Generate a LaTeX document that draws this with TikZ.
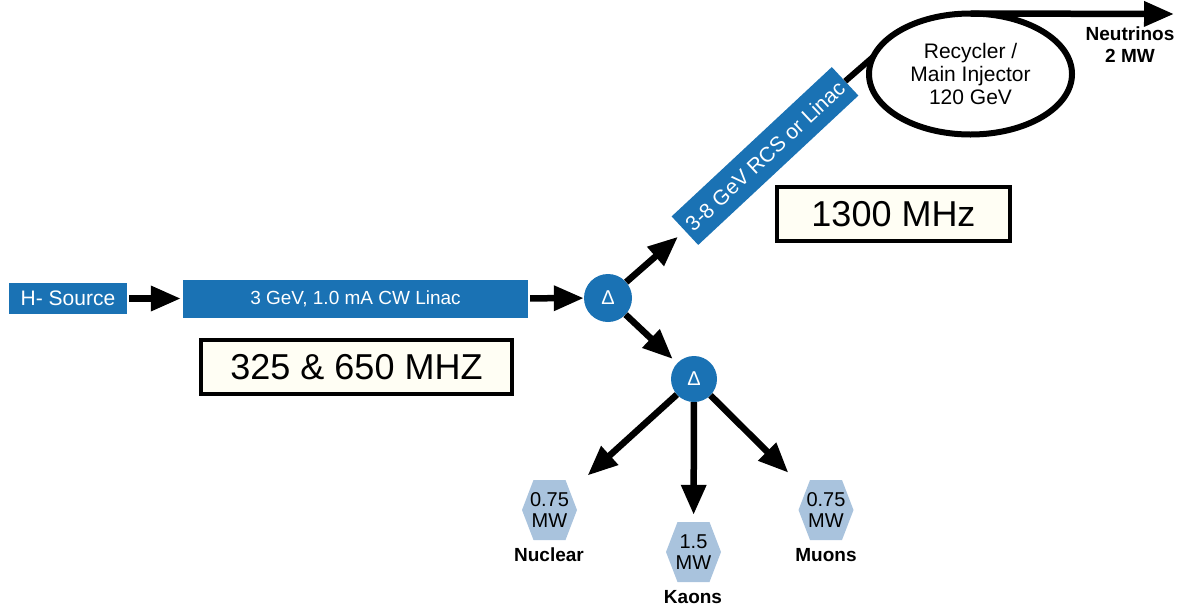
\documentclass[tikz,border=0pt]{standalone}
\usepackage{fontspec}
\setmainfont{Liberation Sans}
\usepackage{tikz}
\usetikzlibrary{arrows.meta,positioning,shapes.geometric,backgrounds}
\definecolor{pxblue}{HTML}{1A72B4}
\definecolor{pxhex}{HTML}{A9C3DD}
\definecolor{pxcream}{HTML}{FFFEF4}

\begin{document}
\begin{tikzpicture}[x=1pt,y=-1pt,
    blk/.style={fill=pxblue,text=white,inner sep=0pt,font=\fontsize{19}{21}\selectfont},
    dlt/.style={circle,fill=pxblue,text=white,inner sep=0pt,font=\fontsize{20}{22}\selectfont},
    freq/.style={draw=black,fill=pxcream,line width=3.5pt,inner sep=0pt,font=\fontsize{36}{40}\selectfont},
    hexlbl/.style={minimum width=55pt,minimum height=60pt,inner sep=0pt,align=center,font=\fontsize{20}{21}\selectfont},
    tag/.style={align=center,font=\bfseries\fontsize{19}{22}\selectfont},
    beam/.style={line width=6.5pt,-{Triangle[length=30pt,width=24pt]}}]
  \useasboundingbox (0,0) rectangle (1182,606);

  % injector chain
  \node[blk,minimum width=118pt,minimum height=31pt,font=\fontsize{21}{23}\selectfont] (src) at (68,298.5) {H- Source};
  \node[blk,minimum width=345pt,minimum height=38pt] (linac) at (355.5,299) {3 GeV, 1.0 mA CW Linac};
  \node[dlt,minimum size=48pt] (d1) at (608,298) {Δ};
  \node[dlt,minimum size=46pt] (d2) at (694,379) {Δ};
  \node[blk,rotate=43,minimum width=219pt,minimum height=39pt,font=\fontsize{21}{23}\selectfont] (rcs) at (765,156) {3-8 GeV RCS or Linac};

  % ring and neutrino line
  \node[draw,ellipse,line width=6pt,minimum width=203pt,minimum height=121pt,inner sep=0pt,outer sep=0pt,
        align=center,font=\fontsize{21}{23}\selectfont] (ring) at (970.5,74) {Recycler /\\Main Injector\\120 GeV};
  \coordinate (nuend) at (1174,14);
  \node[tag] (nu) at (1130,45) {Neutrinos\\2 MW};

  % frequency boxes
  \node[freq,minimum width=233pt,minimum height=54pt] (f1300) at (893.5,214) {1300 MHz};
  \node[freq,minimum width=311pt,minimum height=54pt] (f325) at (356.5,367) {325 \& 650 MHZ};

  % experiments
  \node[hexlbl] (nuc) at (549.5,510) {0.75\\MW};
  \node[hexlbl] (kao) at (693.5,552) {1.5\\MW};
  \node[hexlbl] (muo) at (826,510) {0.75\\MW};
  \node[tag] (nucl) at (549,555) {Nuclear};
  \node[tag] (kaol) at (693,597) {Kaons};
  \node[tag] (muol) at (826,555) {Muons};
  \begin{scope}[on background layer]
    \foreach \h in {nuc,kao,muo}
      \fill[pxhex,shift={(\h.center)}] (-27.5,0) -- (-16,-30) -- (16,-30) -- (27.5,0) -- (16,30) -- (-16,30) -- cycle;
  \end{scope}

  % beam lines
  \draw[beam,shorten <=2pt,shorten >=2pt] (src.east) -- (src.east -| linac.west);
  \draw[beam,shorten <=2pt] (linac) -- (d1);
  \draw[beam,shorten >=9pt] (d1) -- (rcs.west);
  \draw[beam,shorten >=6pt] (d1) -- (d2);
  \draw[line width=6pt] (rcs.east) -- (ring.170);
  \draw[beam] (ring.north) -- (nuend);
  \draw[beam,shorten >=14pt] (d2) -- (nuc);
  \draw[beam,shorten >=7pt] (d2) -- (kao);
  \draw[beam,shorten >=14pt] (d2) -- (muo);
\end{tikzpicture}
\end{document}
